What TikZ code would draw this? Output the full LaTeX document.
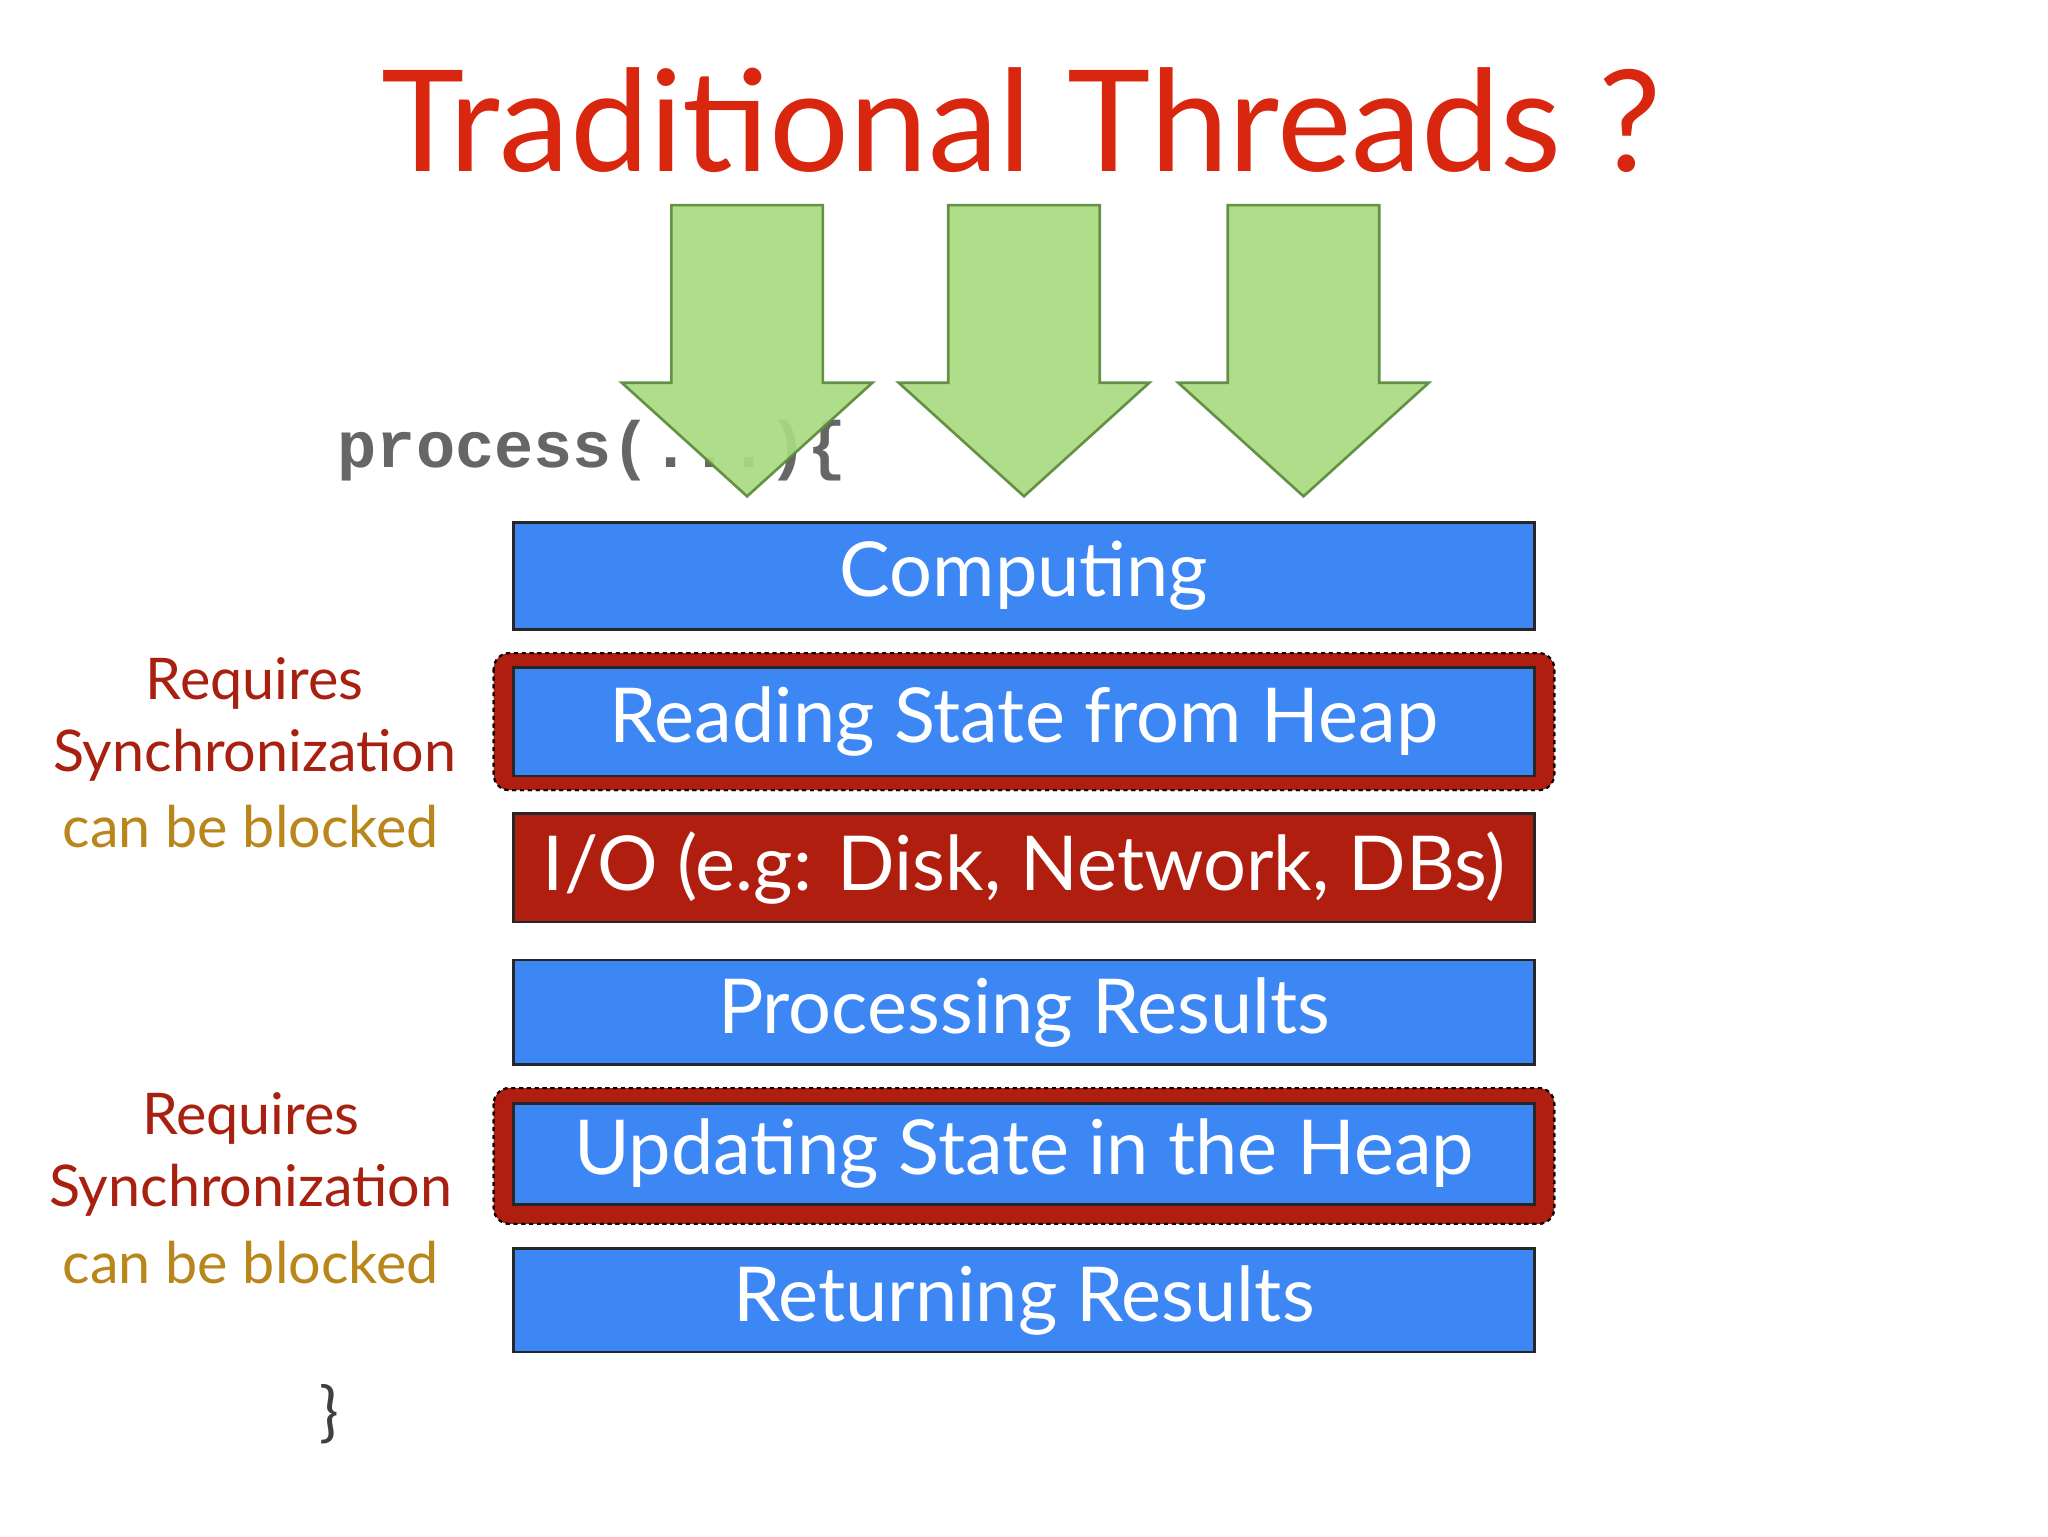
\documentclass[tikz,border=0pt]{standalone}
\usepackage{fontspec}
\setmainfont{Lato}
\newfontfamily\monof{Liberation Mono}
\definecolor{tred}{HTML}{D9260F}
\definecolor{gfill}{HTML}{A9DB80}
\definecolor{gline}{HTML}{5A8A3C}
\definecolor{bfill}{HTML}{3D87F5}
\definecolor{rfill}{HTML}{B01E0F}
\definecolor{dred}{HTML}{A8200F}
\definecolor{gold}{HTML}{B8861A}
\tikzset{x=1pt,y=-1pt,
 stepbox/.style={draw=black!85,line width=2pt,fill=bfill},
 boxtxt/.style={text=white,font=\fontsize{58}{60}\selectfont},
 outerbox/.style={draw=black,dashed,line width=1.5pt,fill=rfill,rounded corners=12pt},
 arr/.style={fill=gfill,draw=gline,line width=2pt,opacity=0.92},
 lab/.style={font=\fontsize{44}{46}\selectfont}}
\begin{document}
\begin{tikzpicture}
\useasboundingbox[fill=white] (0,0) rectangle (1568,1176);
\node[text=tred,font=\fontsize{108}{110}\selectfont] (title) at (782,92) {Traditional Threads ?};
\node[text=black!60,font=\monof\bfseries\fontsize{50}{52}\selectfont,anchor=west] (proc) at (255,345) {process(...)\{};
\foreach \c/\n in {572/a1,784/a2,998/a3}{
 \draw[arr] (\c-58,157) -- (\c+58,157) -- (\c+58,293) -- (\c+96,293) -- (\c,380) -- (\c-96,293) -- (\c-58,293) -- cycle;
}
\fill[outerbox] (378,500) rectangle (1190,605);
\fill[outerbox] (378,833) rectangle (1190,937);
\draw[outerbox,fill=none] (378,500) rectangle (1190,605);
\draw[outerbox,fill=none] (378,833) rectangle (1190,937);
\draw[stepbox] (393,400) rectangle (1175,482) node[midway,boxtxt] (comp) {Computing};
\draw[stepbox] (393,511) rectangle (1175,594) node[midway,boxtxt] (read) {Reading State from Heap};
\draw[stepbox,fill=rfill] (393,623) rectangle (1175,706) node[midway,boxtxt] (io) {I/O (e.g: Disk, Network, DBs)};
\draw[stepbox] (393,735) rectangle (1175,815) node[midway,boxtxt] (procr) {Processing Results};
\draw[stepbox] (393,845) rectangle (1175,922) node[midway,boxtxt] (upd) {Updating State in the Heap};
\draw[stepbox] (393,956) rectangle (1175,1035) node[midway,boxtxt] (ret) {Returning Results};
\node[lab,text=dred] (r1) at (195,523) {Requires};
\node[lab,text=dred] (s1) at (195,578) {Synchronization};
\node[lab,text=gold] (c1) at (192,633) {can be blocked};
\node[lab,text=dred] (r2) at (192,856) {Requires};
\node[lab,text=dred] (s2) at (192,911) {Synchronization};
\node[lab,text=gold] (c2) at (192,967) {can be blocked};
\node[text=black!75,font=\fontsize{50}{52}\selectfont] (br) at (252,1083) {\}};
\end{tikzpicture}
\end{document}
